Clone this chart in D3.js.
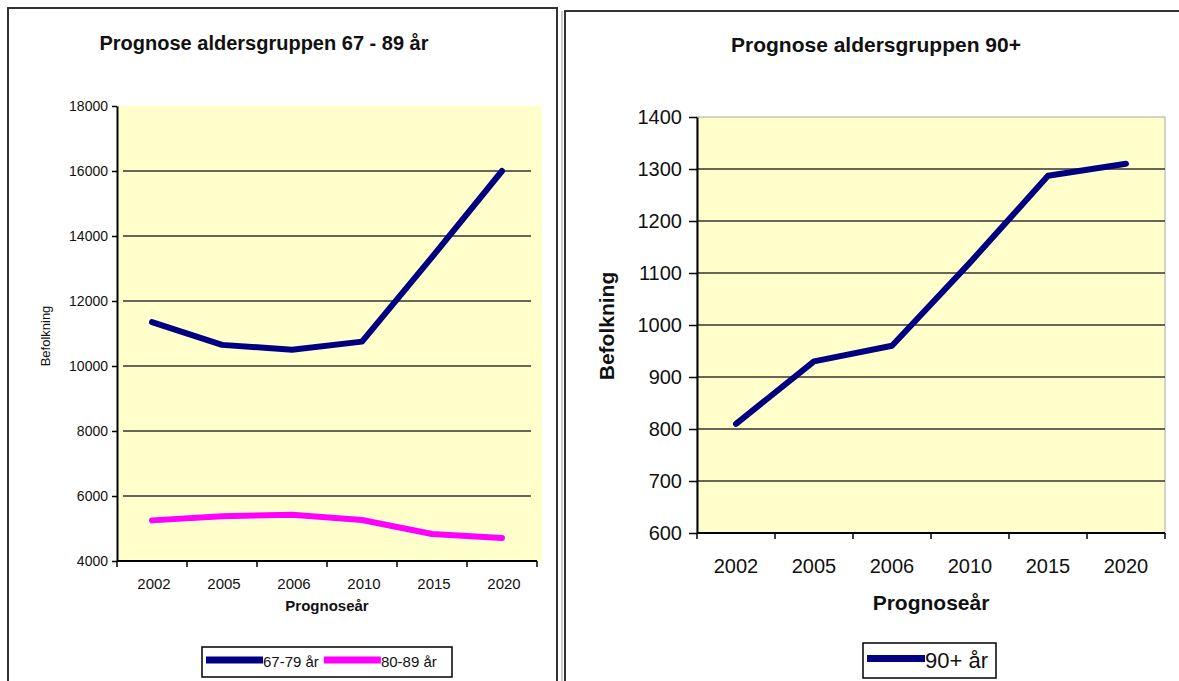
<!DOCTYPE html>
<html lang="no">
<head>
<meta charset="UTF-8">
<title>Prognose aldersgrupper</title>
<script src="https://cdn.jsdelivr.net/npm/d3@7"></script>
<style>
    body { margin: 0; background: #fff; }
    text { font-family: "Liberation Sans", Arial, sans-serif; fill: #111; }
</style>
</head>
<body>
<div id="chart"></div>
<script>
// values
const years = ["2002", "2005", "2006", "2010", "2015", "2020"];
const age67to79 = [11350, 10650, 10500, 10750, 13350, 16000];
const age80to89 = [5250, 5380, 5420, 5260, 4830, 4710];
const age90plus = [810, 930, 960, 1120, 1287, 1310];
const leftTicks = [4000, 6000, 8000, 10000, 12000, 14000, 16000, 18000];
const rightTicks = [600, 700, 800, 900, 1000, 1100, 1200, 1300, 1400];

const navy = "#000080", magenta = "#ff00ff", plotBG = "#ffffcc";

const svg = d3.select("#chart").append("svg")
    .attr("width", 1179).attr("height", 681);

// panel frames
svg.append("rect").attr("x", 8).attr("y", 8).attr("width", 549).attr("height", 690)
    .attr("fill", "none").attr("stroke", "#333").attr("stroke-width", 2);
svg.append("rect").attr("x", 565).attr("y", 11).attr("width", 630).attr("height", 690)
    .attr("fill", "none").attr("stroke", "#333").attr("stroke-width", 2);
svg.append("line").attr("x1", 562).attr("x2", 562).attr("y1", 11).attr("y2", 681)
    .attr("stroke", "#999").attr("stroke-width", 1);

function drawPanel(p) {
    const g = svg.append("g");
    const x = d3.scaleBand().domain(years).range([p.left, p.right]);
    const y = d3.scaleLinear().domain([p.ticks[0], p.ticks[p.ticks.length - 1]])
        .range([p.bottom, p.top]);

    // background
    g.append("rect")
        .attr("x", p.left).attr("y", p.top)
        .attr("width", p.right - p.left + p.bgExtra).attr("height", p.bottom - p.top)
        .attr("fill", plotBG)
        .attr("stroke", p.frame ? "#aaa" : "none");

    // grid
    g.append("g").selectAll("line")
        .data(p.ticks.slice(1, -1))
        .join("line")
        .attr("x1", p.left + p.gridInset).attr("x2", p.right - p.gridInset)
        .attr("y1", d => y(d)).attr("y2", d => y(d))
        .attr("stroke", "#333").attr("stroke-width", 1.6);

    // y axis
    const yAxis = g.append("g")
        .attr("transform", `translate(${p.left},0)`)
        .call(d3.axisLeft(y).tickValues(p.ticks).tickFormat(d3.format("d"))
            .tickSize(p.tickLen).tickSizeOuter(0).tickPadding(p.tickPad));
    yAxis.select(".domain").attr("stroke-width", 2);
    yAxis.selectAll("line").attr("stroke-width", 1.5);
    yAxis.selectAll("text").style("font-size", p.yTickFont + "px").attr("font-family", null);

    // x axis with ticks at category boundaries
    const xAxis = g.append("g").attr("transform", `translate(0,${p.bottom})`);
    xAxis.append("line").attr("x1", p.left).attr("x2", p.right)
        .attr("stroke", "#000").attr("stroke-width", 2);
    xAxis.selectAll("line.tk")
        .data(years.map(d => x(d)).concat([p.right]))
        .join("line").attr("class", "tk")
        .attr("x1", d => d).attr("x2", d => d).attr("y1", 0).attr("y2", 6)
        .attr("stroke", "#000").attr("stroke-width", 1.5);
    g.append("g").selectAll("text")
        .data(years)
        .join("text")
        .attr("x", d => x(d) + x.bandwidth() / 2 + p.xLabelShift)
        .attr("y", p.xLabelY)
        .attr("text-anchor", "middle")
        .style("font-size", p.xTickFont + "px")
        .text(d => d);

    // lines
    const line = d3.line().x((d, i) => x(years[i]) + x.bandwidth() / 2).y(d => y(d));
    p.series.forEach(s => {
        g.append("path").datum(s.values)
            .attr("d", line)
            .attr("fill", "none").attr("stroke", s.color)
            .attr("stroke-width", 6)
            .attr("stroke-linecap", "round").attr("stroke-linejoin", "round");
    });

    // titles
    g.append("text").attr("x", p.titleX).attr("y", p.titleY)
        .attr("text-anchor", "middle").style("font-size", p.titleFont + "px")
        .style("font-weight", "bold").text(p.title);
    g.append("text").attr("x", (p.left + p.right) / 2).attr("y", p.xTitleY)
        .attr("text-anchor", "middle").style("font-size", p.axisTitleFont + "px")
        .style("font-weight", "bold").text("Prognoseår");
    g.append("text")
        .attr("transform", `translate(${p.yTitleX},${p.yTitleY}) rotate(-90)`)
        .attr("text-anchor", "middle").style("font-size", p.yTitleFont + "px")
        .style("font-weight", p.yTitleBold ? "bold" : "normal").text("Befolkning");

    // legend
    const lg = g.append("g");
    lg.append("rect").attr("x", p.legend.x).attr("y", p.legend.y)
        .attr("width", p.legend.w).attr("height", p.legend.h)
        .attr("fill", "#fff").attr("stroke", "#000").attr("stroke-width", 1.5);
    let cx = p.legend.x + 4;
    p.series.forEach(s => {
        lg.append("line").attr("x1", cx).attr("x2", cx + p.legend.swatch)
            .attr("y1", p.legend.y + p.legend.h / 2 - 2).attr("y2", p.legend.y + p.legend.h / 2 - 2)
            .attr("stroke", s.color).attr("stroke-width", 7);
        cx += p.legend.swatch;
        const t = lg.append("text").attr("x", cx).attr("y", p.legend.y + p.legend.h / 2 + p.legend.font * 0.36)
            .style("font-size", p.legend.font + "px").text(s.name);
        cx += t.node().getComputedTextLength() + 5;
    });
}

drawPanel({
    title: "Prognose aldersgruppen 67 - 89 år", titleX: 264, titleY: 50, titleFont: 20,
    left: 117, right: 537, top: 106, bottom: 561, bgExtra: 5, frame: false, gridInset: 6,
    ticks: leftTicks, yTickFont: 14, xTickFont: 15, tickLen: 5, tickPad: 4,
    xLabelY: 589, xLabelShift: 2,
    xTitleY: 611, axisTitleFont: 15, yTitleX: 50, yTitleY: 336, yTitleFont: 13, yTitleBold: false,
    series: [
        {name: "67-79 år", values: age67to79, color: navy},
        {name: "80-89 år", values: age80to89, color: magenta}
    ],
    legend: {x: 202, y: 647, w: 250, h: 30, swatch: 57, font: 15}
});

drawPanel({
    title: "Prognose aldersgruppen 90+", titleX: 876, titleY: 52, titleFont: 21,
    left: 697, right: 1165, top: 117, bottom: 533, bgExtra: 0, frame: true, gridInset: 0,
    ticks: rightTicks, yTickFont: 20, xTickFont: 20, tickLen: 8, tickPad: 7,
    xLabelY: 573, xLabelShift: 0,
    xTitleY: 610, axisTitleFont: 21, yTitleX: 614, yTitleY: 326, yTitleFont: 21, yTitleBold: true,
    series: [
        {name: "90+ år", values: age90plus, color: navy}
    ],
    legend: {x: 863, y: 643, w: 133, h: 35, swatch: 58, font: 22}
});
</script>
</body>
</html>
